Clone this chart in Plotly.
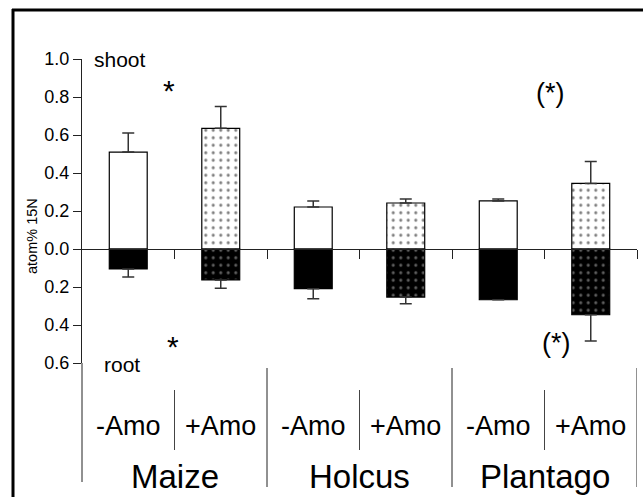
import plotly.graph_objects as go

# ---- data ----
treatments = ["-Amo", "+Amo", "-Amo", "+Amo", "-Amo", "+Amo"]
species = ["Maize", "Holcus", "Plantago"]
shoot = [0.51, 0.635, 0.221, 0.242, 0.253, 0.345]
shoot_err = [0.10, 0.115, 0.032, 0.021, 0.010, 0.116]
root = [0.105, 0.163, 0.209, 0.253, 0.267, 0.346]
root_err = [0.042, 0.044, 0.053, 0.035, 0.0, 0.138]
y_tickvals = [1.0, 0.8, 0.6, 0.4, 0.2, 0.0, -0.2, -0.4, -0.6]
y_ticktext = ["1.0", "0.8", "0.6", "0.4", "0.2", "0.0", "0.2", "0.4", "0.6"]

FONT = "Arial, Liberation Sans, sans-serif"
W, H = 643, 497
L, R, T, B = 82, 6, 59, 134
PW, PH = W - L - R, H - T - B


def px(x):
    return (x - L) / PW


def py(y):
    return (T + PH - y) / PH


xs = list(range(len(treatments)))
pat = ["" if t == "-Amo" else "." for t in treatments]

fig = go.Figure()
fig.add_trace(go.Bar(
    x=xs, y=shoot, width=0.41,
    marker=dict(color="white", line=dict(color="black", width=1.2),
                pattern=dict(shape=pat, fgcolor="black", size=7.5, solidity=0.13)),
    error_y=dict(type="data", symmetric=False, array=shoot_err,
                 arrayminus=[0] * len(shoot), color="#333", thickness=1.5, width=6),
    showlegend=False, hoverinfo="skip",
))
fig.add_trace(go.Bar(
    x=xs, y=[-v for v in root], width=0.41,
    marker=dict(color="black", line=dict(color="black", width=1.2),
                pattern=dict(shape=pat, fgcolor="#bbbbbb", size=7.5, solidity=0.13)),
    error_y=dict(type="data", symmetric=False, array=[0] * len(root),
                 arrayminus=root_err, color="#333", thickness=1.5, width=6),
    showlegend=False, hoverinfo="skip",
))

shapes = []
# y-axis extension down through the category area
shapes.append(dict(type="line", xref="paper", yref="paper", x0=0, x1=0,
                   y0=0, y1=py(482), line=dict(color="#222", width=1)))
# separators between treatments inside each species group
for i in range(0, len(xs), 2):
    shapes.append(dict(type="line", xref="x", yref="paper", x0=i + 0.5, x1=i + 0.5,
                       y0=py(390), y1=py(450), line=dict(color="#444", width=1)))
# separators between species groups
for i in range(1, len(xs), 2):
    shapes.append(dict(type="line", xref="x", yref="paper", x0=i + 0.5, x1=i + 0.5,
                       y0=py(368), y1=py(487), line=dict(color="#222", width=1)))
# outer frame (top and left)
shapes.append(dict(type="line", xref="paper", yref="paper", x0=px(12), x1=px(645),
                   y0=py(10), y1=py(10), line=dict(color="black", width=3)))
shapes.append(dict(type="line", xref="paper", yref="paper", x0=px(13), x1=px(13),
                   y0=py(9), y1=py(500), line=dict(color="black", width=3)))

ann = []
for i, t in enumerate(treatments):
    ann.append(dict(x=i, y=py(426), xref="x", yref="paper", text=t, showarrow=False,
                    xanchor="center", yanchor="middle", font=dict(size=27, color="black", family=FONT)))
for g, s in enumerate(species):
    ann.append(dict(x=2 * g + 0.5, y=py(476), xref="x", yref="paper", text=s, showarrow=False,
                    xanchor="center", yanchor="middle", font=dict(size=33, color="black", family=FONT)))
ann.append(dict(x=px(92), y=py(60), xref="paper", yref="paper", text="shoot", showarrow=False,
                xanchor="left", yanchor="middle", font=dict(size=21, color="black", family=FONT)))
ann.append(dict(x=px(102), y=py(364), xref="paper", yref="paper", text="root", showarrow=False,
                xanchor="left", yanchor="middle", font=dict(size=21, color="black", family=FONT)))
ann.append(dict(x=px(32), y=py(236), xref="paper", yref="paper", text="atom% 15N", showarrow=False,
                textangle=-90, xanchor="center", yanchor="middle", font=dict(size=14.5, color="black", family=FONT)))
ann.append(dict(x=px(169), y=py(90), xref="paper", yref="paper", text="*", showarrow=False,
                xanchor="center", yanchor="middle", font=dict(size=30, color="black", family=FONT)))
ann.append(dict(x=px(173), y=py(346), xref="paper", yref="paper", text="*", showarrow=False,
                xanchor="center", yanchor="middle", font=dict(size=30, color="black", family=FONT)))
ann.append(dict(x=px(550), y=py(93), xref="paper", yref="paper", text="(*)", showarrow=False,
                xanchor="center", yanchor="middle", font=dict(size=27, color="black", family=FONT)))
ann.append(dict(x=px(556), y=py(343), xref="paper", yref="paper", text="(*)", showarrow=False,
                xanchor="center", yanchor="middle", font=dict(size=27, color="black", family=FONT)))

fig.update_layout(
    width=W, height=H, margin=dict(l=L, r=R, t=T, b=B),
    paper_bgcolor="white", plot_bgcolor="white",
    barmode="overlay", font=dict(family=FONT, color="black"),
    xaxis=dict(range=[-0.5, len(xs) - 0.5], showgrid=False, zeroline=False,
               showline=True, linecolor="#222", linewidth=1,
               ticks="outside", tickvals=[i + 0.5 for i in xs], ticklen=9,
               tickcolor="#222", showticklabels=False,
               anchor="free", position=py(249.3)),
    yaxis=dict(range=[-0.6, 1.0], showgrid=False, zeroline=False,
               showline=True, linecolor="#222", linewidth=1,
               ticks="outside", ticklen=8, tickcolor="#222",
               tickvals=y_tickvals, ticktext=y_ticktext,
               tickfont=dict(size=18, color="black", family=FONT)),
    shapes=shapes, annotations=ann,
)

fig.write_html("out.html", config={"displayModeBar": False},
               post_script="document.body.style.margin='0';document.body.style.overflow='hidden';")
